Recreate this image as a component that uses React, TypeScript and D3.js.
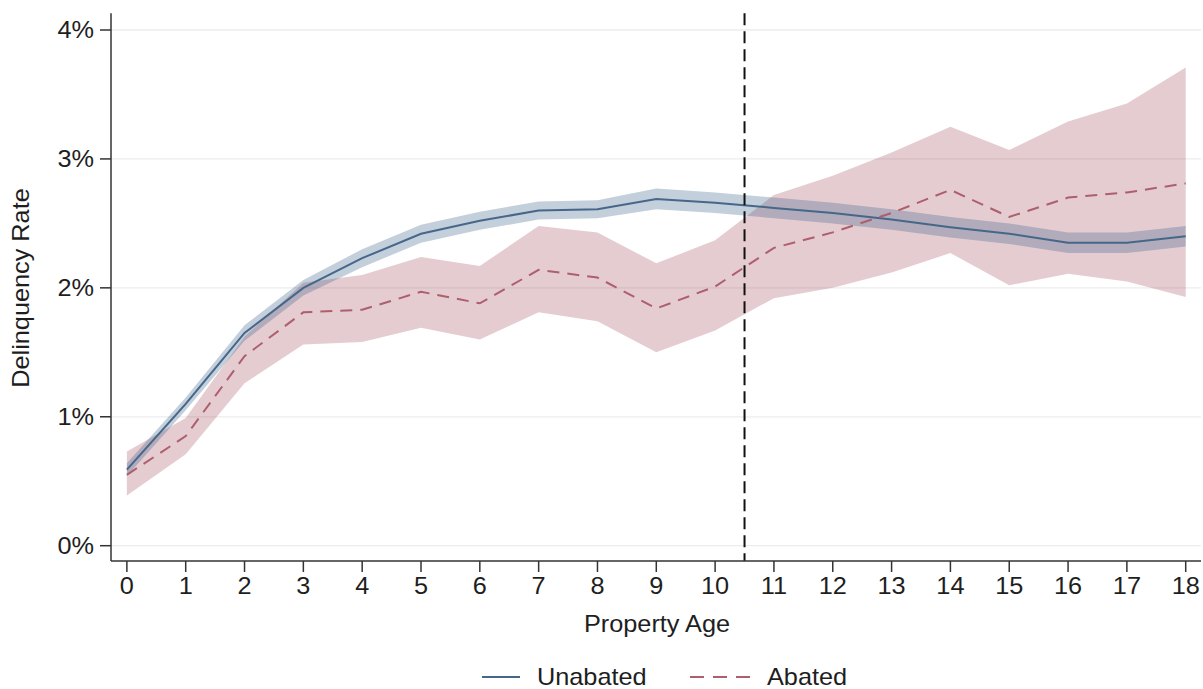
import * as d3 from "d3";

// property age 0..18
const ages = d3.range(0, 19);

// delinquency rate (%) — unabated properties
const unabatedMean = [0.59, 1.1, 1.65, 2.0, 2.23, 2.42, 2.52, 2.6, 2.61, 2.69, 2.66, 2.62, 2.58, 2.53, 2.47, 2.42, 2.35, 2.35, 2.4];
const unabatedLow = [0.54, 1.05, 1.59, 1.94, 2.16, 2.35, 2.45, 2.53, 2.54, 2.61, 2.58, 2.54, 2.5, 2.45, 2.39, 2.34, 2.27, 2.27, 2.32];
const unabatedHigh = [0.64, 1.15, 1.71, 2.06, 2.3, 2.49, 2.59, 2.67, 2.68, 2.77, 2.74, 2.7, 2.66, 2.61, 2.55, 2.5, 2.43, 2.43, 2.48];

// delinquency rate (%) — abated properties
const abatedMean = [0.55, 0.85, 1.47, 1.81, 1.83, 1.97, 1.88, 2.14, 2.08, 1.84, 2.01, 2.31, 2.43, 2.58, 2.76, 2.55, 2.7, 2.74, 2.81];
const abatedLow = [0.39, 0.71, 1.26, 1.56, 1.58, 1.69, 1.6, 1.81, 1.74, 1.5, 1.67, 1.92, 2.0, 2.12, 2.27, 2.02, 2.11, 2.05, 1.93];
const abatedHigh = [0.73, 0.99, 1.62, 2.04, 2.1, 2.24, 2.17, 2.48, 2.43, 2.19, 2.37, 2.72, 2.87, 3.05, 3.25, 3.07, 3.29, 3.43, 3.71];

const yTicks = [0, 1, 2, 3, 4];
const cutoff = 10.5;

const W = 1203;
const H = 689;
const FONT = "'Liberation Sans', Arial, Helvetica, sans-serif";
const SX = 1.1; // reference text is a little wide

export default function App() {
  const x = d3.scaleLinear().domain([-0.27, 18.26]).range([111, 1201]);
  const y = d3.scaleLinear().domain([0, 4]).range([545.7, 30]);
  const yTop = y(4.13);
  const yBot = 561;

  const band = (lo: number[], hi: number[]) =>
    d3
      .area<number>()
      .x((a) => x(a))
      .y0((_, i) => y(lo[i]))
      .y1((_, i) => y(hi[i]))(ages) ?? "";

  const line = (m: number[]) =>
    d3
      .line<number>()
      .x((a) => x(a))
      .y((_, i) => y(m[i]))(ages) ?? "";

  const txt = (
    tx: number,
    ty: number,
    s: string,
    anchor: string,
    size = 23,
    rot = 0,
  ) => (
    <text
      transform={`translate(${tx},${ty}) rotate(${rot}) scale(${SX},1)`}
      textAnchor={anchor}
      fontSize={size}
      fill="#1e1e1e"
    >
      {s}
    </text>
  );

  return (
    <svg
      width={W}
      height={H}
      style={{ position: "absolute", left: 0, top: 0, background: "#fff" }}
      fontFamily={FONT}
    >
      {/* gridlines */}
      {yTicks.map((t) => (
        <line key={t} x1={111} x2={1201} y1={y(t)} y2={y(t)} stroke="#ececec" strokeWidth={1.3} />
      ))}

      {/* confidence bands */}
      <path d={band(abatedLow, abatedHigh)} fill="rgb(150,50,70)" fillOpacity={0.25} />
      <path d={band(unabatedLow, unabatedHigh)} fill="rgb(55,95,135)" fillOpacity={0.3} />

      {/* means */}
      <path d={line(unabatedMean)} fill="none" stroke="#46678a" strokeWidth={2} />
      <path
        d={line(abatedMean)}
        fill="none"
        stroke="#ad5f6d"
        strokeWidth={2}
        strokeDasharray="12 8"
      />

      {/* cutoff */}
      <line
        x1={x(cutoff)}
        x2={x(cutoff)}
        y1={yTop}
        y2={yBot}
        stroke="#111"
        strokeWidth={2}
        strokeDasharray="12 6"
      />

      {/* axes */}
      <line x1={111} x2={111} y1={yTop} y2={yBot} stroke="#333" strokeWidth={1.5} />
      <line x1={111} x2={1201} y1={yBot} y2={yBot} stroke="#333" strokeWidth={1.5} />
      {yTicks.map((t) => (
        <g key={t}>
          <line x1={100} x2={111} y1={y(t)} y2={y(t)} stroke="#333" strokeWidth={1.5} />
          {txt(94, y(t) + 8, `${t}%`, "end")}
        </g>
      ))}
      {ages.map((a) => (
        <g key={a}>
          <line x1={x(a)} x2={x(a)} y1={yBot} y2={yBot + 11} stroke="#333" strokeWidth={1.5} />
          {txt(x(a), 594, String(a), "middle")}
        </g>
      ))}

      {/* titles */}
      {txt(657, 632, "Property Age", "middle", 23)}
      {txt(29, 288, "Delinquency Rate", "middle", 23, -90)}

      {/* legend */}
      <line x1={482} x2={520} y1={677} y2={677} stroke="#46678a" strokeWidth={2.2} />
      {txt(537, 685, "Unabated", "start", 23)}
      <line
        x1={690}
        x2={751}
        y1={677}
        y2={677}
        stroke="#ad5f6d"
        strokeWidth={2.2}
        strokeDasharray="14 9"
      />
      {txt(767, 685, "Abated", "start", 23)}
    </svg>
  );
}
